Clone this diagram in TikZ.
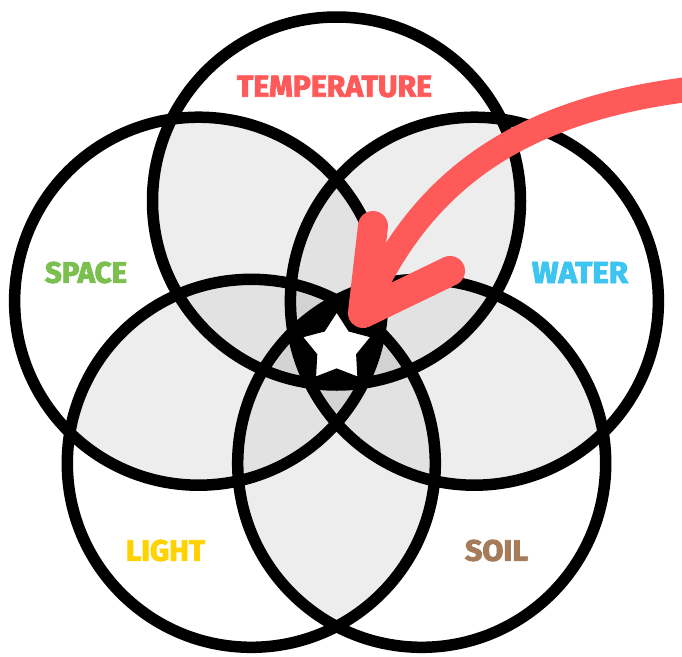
\documentclass[tikz,border=0pt]{standalone}
\usepackage{fontspec}
\usepackage{graphicx}
\setmainfont{Fira Sans}
\newfontfamily\lblfont[BoldFeatures={FakeBold=3}]{Fira Sans}
\usetikzlibrary{shapes.geometric}
\definecolor{lvtwo}{HTML}{EDEDED}
\definecolor{lvthree}{HTML}{E2E2E2}
\definecolor{lvfour}{HTML}{D3D3D3}
\definecolor{cRed}{RGB}{255,90,90}
\definecolor{cGreen}{RGB}{123,192,79}
\definecolor{cBlue}{RGB}{62,196,240}
\definecolor{cYellow}{RGB}{255,210,0}
\definecolor{cBrown}{RGB}{165,123,90}
\newcommand{\vlbl}[2]{\resizebox{#1}{21pt}{\lblfont\bfseries #2}}
\begin{document}
\begin{tikzpicture}[x=1pt,y=-1pt,
  ring/.style={draw=black,line width=11.5pt},
  redstroke/.style={draw=cRed,line cap=round,line join=round},
  lbl/.style={inner sep=0pt}]
\def\R{184pt}
\fill[white] (0,0) rectangle (682,656);
\useasboundingbox (0,0) rectangle (682,656);
\coordinate (c1) at (336.5,201);
\coordinate (c2) at (474.4,301.2);
\coordinate (c3) at (421.7,463.3);
\coordinate (c4) at (251.3,463.3);
\coordinate (c5) at (198.6,301.2);
% overlap levels
\foreach \a/\b in {1/2,1/3,1/4,1/5,2/3,2/4,2/5,3/4,3/5,4/5}{
  \begin{scope}\clip (c\a) circle[radius=\R];
  \fill[lvtwo] (c\b) circle[radius=\R];\end{scope}}
\foreach \a/\b/\c in {1/2/3,1/2/4,1/2/5,1/3/4,1/3/5,1/4/5,2/3/4,2/3/5,2/4/5,3/4/5}{
  \begin{scope}\clip (c\a) circle[radius=\R];\clip (c\b) circle[radius=\R];
  \fill[lvthree] (c\c) circle[radius=\R];\end{scope}}
\foreach \a/\b/\c/\d in {1/2/3/4,1/2/3/5,1/2/4/5,1/3/4/5,2/3/4/5}{
  \begin{scope}\clip (c\a) circle[radius=\R];\clip (c\b) circle[radius=\R];
  \clip (c\c) circle[radius=\R];
  \fill[lvfour] (c\d) circle[radius=\R];\end{scope}}
\begin{scope}\clip (c1) circle[radius=\R];\clip (c2) circle[radius=\R];
  \clip (c3) circle[radius=\R];\clip (c4) circle[radius=\R];
  \fill[black] (c5) circle[radius=\R];\end{scope}
% outlines
\foreach \i in {1,...,5}{\draw[ring] (c\i) circle[radius=\R];}
% star
\node[star,star points=5,star point ratio=1.72,minimum size=72pt,inner sep=0pt,
  fill=white,draw=black,line width=1pt] (star) at (336.7,348) {};
% arrow
\coordinate (aS) at (700,88);
\coordinate (aV) at (363,313);
\coordinate (aL) at (373,226);
\coordinate (aR) at (450,271);
\draw[redstroke,line width=25pt] (aS) .. controls (520,108) and (420,180) .. (aV);
\draw[redstroke,line width=30pt] (aL) -- (aV) -- (aR);
% labels
\node[lbl,text=cRed] (tT) at (334.5,86.5) {\vlbl{195pt}{TEMPERATURE}};
\node[lbl,text=cGreen] (tS) at (86,272.5) {\vlbl{82pt}{SPACE}};
\node[lbl,text=cBlue] (tW) at (580,272.5) {\vlbl{96pt}{WATER}};
\node[lbl,text=cYellow] (tL) at (165.5,550.5) {\vlbl{79pt}{LIGHT}};
\node[lbl,text=cBrown] (tO) at (496.5,550.5) {\vlbl{63pt}{SOIL}};
\end{tikzpicture}
\end{document}
